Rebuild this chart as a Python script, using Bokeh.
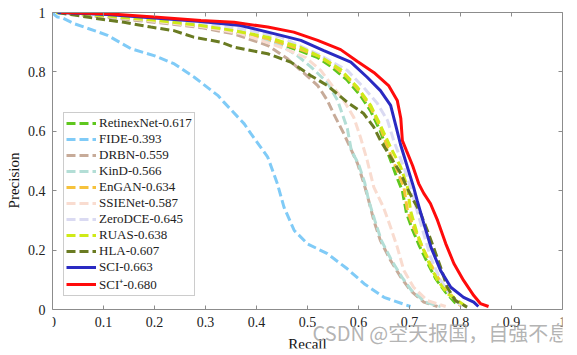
from bokeh.plotting import figure
from bokeh.models import Legend, LegendItem, LinearAxis, FixedTicker, Range1d, Label
from bokeh.embed import file_html
from bokeh.resources import INLINE

# ---------------- data ----------------
labels = ["RetinexNet-0.617", "FIDE-0.393", "DRBN-0.559", "KinD-0.566", "EnGAN-0.634",
          "SSIENet-0.587", "ZeroDCE-0.645", "RUAS-0.638", "HLA-0.607", "SCI-0.663", "SCI\u207a-0.680"]

r_retinex = [0.007, 0.108, 0.206, 0.291, 0.356, 0.422, 0.487, 0.520, 0.546, 0.578, 0.604, 0.624, 0.643, 0.657, 0.673, 0.686, 0.694, 0.706, 0.720, 0.738, 0.752, 0.770, 0.795]
p_retinex = [1.000, 0.987, 0.970, 0.953, 0.934, 0.909, 0.870, 0.848, 0.818, 0.772, 0.720, 0.668, 0.600, 0.530, 0.455, 0.400, 0.325, 0.268, 0.212, 0.148, 0.102, 0.060, 0.012]

r_fide = [0.000, 0.004, 0.009, 0.017, 0.043, 0.082, 0.108, 0.154, 0.199, 0.239, 0.278, 0.324, 0.335, 0.376, 0.389, 0.422, 0.441, 0.454, 0.474, 0.500, 0.539, 0.578, 0.611, 0.650, 0.702]
p_fide = [1.000, 0.992, 0.985, 0.984, 0.962, 0.939, 0.923, 0.878, 0.855, 0.827, 0.782, 0.721, 0.700, 0.625, 0.592, 0.513, 0.423, 0.344, 0.266, 0.221, 0.188, 0.137, 0.087, 0.041, 0.010]

r_drbn = [0.007, 0.108, 0.206, 0.291, 0.356, 0.422, 0.461, 0.487, 0.520, 0.539, 0.551, 0.571, 0.598, 0.610, 0.620, 0.630, 0.643, 0.663, 0.683, 0.702, 0.728, 0.755]
p_drbn = [1.000, 0.983, 0.966, 0.949, 0.928, 0.889, 0.844, 0.805, 0.754, 0.704, 0.660, 0.593, 0.492, 0.428, 0.367, 0.300, 0.232, 0.165, 0.109, 0.064, 0.025, 0.010]

r_kind = [0.007, 0.108, 0.206, 0.291, 0.369, 0.448, 0.480, 0.506, 0.539, 0.559, 0.578, 0.586, 0.600, 0.612, 0.620, 0.632, 0.645, 0.665, 0.685, 0.704, 0.731, 0.761]
p_kind = [1.000, 0.987, 0.970, 0.955, 0.936, 0.889, 0.855, 0.818, 0.764, 0.704, 0.610, 0.535, 0.490, 0.428, 0.367, 0.300, 0.232, 0.165, 0.109, 0.064, 0.025, 0.010]

r_engan = [0.007, 0.108, 0.206, 0.291, 0.356, 0.422, 0.487, 0.520, 0.546, 0.578, 0.604, 0.624, 0.643, 0.657, 0.676, 0.689, 0.696, 0.708, 0.722, 0.741, 0.755, 0.774, 0.800]
p_engan = [1.000, 0.988, 0.971, 0.955, 0.936, 0.912, 0.875, 0.855, 0.827, 0.782, 0.731, 0.680, 0.614, 0.546, 0.468, 0.412, 0.333, 0.277, 0.222, 0.155, 0.109, 0.064, 0.013]

r_ssie = [0.007, 0.108, 0.206, 0.291, 0.369, 0.448, 0.497, 0.526, 0.551, 0.571, 0.591, 0.604, 0.617, 0.630, 0.649, 0.663, 0.676, 0.689, 0.708, 0.735, 0.771]
p_ssie = [1.000, 0.987, 0.970, 0.953, 0.929, 0.883, 0.848, 0.805, 0.748, 0.704, 0.646, 0.579, 0.502, 0.412, 0.344, 0.277, 0.210, 0.131, 0.075, 0.030, 0.010]

r_zero = [0.007, 0.108, 0.206, 0.291, 0.369, 0.448, 0.526, 0.578, 0.610, 0.637, 0.657, 0.669, 0.686, 0.698, 0.712, 0.726, 0.741, 0.761, 0.781, 0.804]
p_zero = [1.000, 0.990, 0.976, 0.963, 0.946, 0.917, 0.855, 0.805, 0.748, 0.694, 0.636, 0.569, 0.492, 0.434, 0.350, 0.266, 0.178, 0.098, 0.044, 0.010]

r_ruas = [0.007, 0.108, 0.206, 0.291, 0.356, 0.422, 0.487, 0.526, 0.565, 0.598, 0.624, 0.643, 0.663, 0.683, 0.696, 0.702, 0.715, 0.728, 0.742, 0.755, 0.774, 0.813]
p_ruas = [1.000, 0.988, 0.973, 0.956, 0.939, 0.917, 0.882, 0.850, 0.808, 0.748, 0.687, 0.620, 0.546, 0.479, 0.412, 0.333, 0.256, 0.199, 0.142, 0.098, 0.054, 0.008]

r_hla = [0.010, 0.036, 0.089, 0.140, 0.193, 0.238, 0.277, 0.330, 0.356, 0.422, 0.467, 0.506, 0.539, 0.578, 0.610, 0.630, 0.643, 0.663, 0.683, 0.696, 0.708, 0.722, 0.735, 0.747, 0.761, 0.774, 0.790, 0.813]
p_hla = [1.000, 0.993, 0.979, 0.967, 0.951, 0.939, 0.917, 0.900, 0.883, 0.861, 0.833, 0.788, 0.754, 0.698, 0.660, 0.614, 0.569, 0.513, 0.458, 0.407, 0.367, 0.323, 0.266, 0.210, 0.142, 0.075, 0.030, 0.008]

r_sci = [0.010, 0.108, 0.206, 0.291, 0.369, 0.448, 0.487, 0.532, 0.585, 0.617, 0.643, 0.663, 0.673, 0.683, 0.696, 0.708, 0.715, 0.728, 0.742, 0.761, 0.781, 0.806, 0.826, 0.835]
p_sci = [1.000, 0.993, 0.981, 0.970, 0.956, 0.923, 0.906, 0.872, 0.833, 0.782, 0.737, 0.687, 0.620, 0.552, 0.479, 0.412, 0.367, 0.290, 0.210, 0.131, 0.075, 0.041, 0.025, 0.010]

r_scip = [0.017, 0.108, 0.206, 0.291, 0.356, 0.422, 0.473, 0.520, 0.565, 0.598, 0.630, 0.659, 0.676, 0.683, 0.686, 0.694, 0.706, 0.718, 0.728, 0.741, 0.755, 0.771, 0.787, 0.806, 0.826, 0.839, 0.855]
p_scip = [1.000, 0.996, 0.984, 0.973, 0.967, 0.951, 0.934, 0.906, 0.875, 0.835, 0.798, 0.754, 0.704, 0.643, 0.569, 0.535, 0.485, 0.424, 0.391, 0.357, 0.300, 0.222, 0.155, 0.098, 0.047, 0.020, 0.010]

x_ticks = [0, 0.1, 0.2, 0.3, 0.4, 0.5, 0.6, 0.7, 0.8, 0.9, 1]
x_tick_labels = ["0", "0.1", "0.2", "0.3", "0.4", "0.5", "0.6", "0.7", "0.8", "0.9", "1"]
y_ticks = [0, 0.2, 0.4, 0.6, 0.8, 1]
y_tick_labels = ["0", "0.2", "0.4", "0.6", "0.8", "1"]

series = [
    (r_retinex, p_retinex, "#5FC71E", "dashed"),
    (r_fide, p_fide, "#80CBF7", "dashed"),
    (r_drbn, p_drbn, "#C7AB99", "dashed"),
    (r_kind, p_kind, "#B3DED6", "dashed"),
    (r_engan, p_engan, "#F6C23C", "dashed"),
    (r_ssie, p_ssie, "#F9DCD0", "dashed"),
    (r_zero, p_zero, "#DADAF2", "dashed"),
    (r_ruas, p_ruas, "#CFEA17", "dashed"),
    (r_hla, p_hla, "#6A7B22", "dashed"),
    (r_sci, p_sci, "#2A2AC2", "solid"),
    (r_scip, p_scip, "#FF0B0B", "solid"),
]

FONT = "Liberation Serif, serif"
GRAY = "#8c8c8c"

# The frame reaches down to the bottom of the canvas so that the caption area below
# the x axis (where the reference's watermark sits) is drawable; the x axis itself is
# pinned at y = 0 and the side axes are bounded to [0, 1].
p = figure(width=570, height=350, x_range=Range1d(0, 1), y_range=Range1d(-0.1313, 1),
           output_backend="svg", toolbar_location=None,
           min_border_left=52, min_border_right=8, min_border_top=12, min_border_bottom=2)
p.xgrid.visible = False
p.ygrid.visible = False
p.outline_line_color = None

for ax, ticks, labs in ((p.xaxis[0], x_ticks, x_tick_labels), (p.yaxis[0], y_ticks, y_tick_labels)):
    ax.ticker = FixedTicker(ticks=ticks)
    ax.major_label_overrides = {t: l for t, l in zip(ticks, labs)}
    ax.major_label_text_font = FONT
    ax.major_label_text_font_size = "14px"
    ax.major_label_text_color = "#222222"
    ax.axis_label_text_font = FONT
    ax.axis_label_text_font_size = "15px"
    ax.axis_label_text_font_style = "normal"
    ax.axis_label_text_color = "#111111"
    ax.axis_line_color = GRAY
    ax.major_tick_line_color = GRAY
    ax.major_tick_in = 4
    ax.major_tick_out = 0
    ax.minor_tick_line_color = None

p.xaxis[0].fixed_location = 0
p.xaxis[0].major_label_standoff = 7
p.yaxis[0].bounds = (0, 1)
p.yaxis[0].axis_label = "Precision"
p.yaxis[0].major_label_standoff = 7
p.yaxis[0].axis_label_standoff = 3

top_axis = LinearAxis(ticker=FixedTicker(ticks=x_ticks), major_label_text_font_size="0px",
                      major_label_standoff=0, axis_line_color=GRAY, major_tick_line_color=GRAY,
                      major_tick_in=4, major_tick_out=0, minor_tick_line_color=None)
p.add_layout(top_axis, "above")
right_axis = LinearAxis(ticker=FixedTicker(ticks=y_ticks), bounds=(0, 1), major_label_text_font_size="0px",
                        major_label_standoff=0, axis_line_color=GRAY, major_tick_line_color=GRAY,
                        major_tick_in=4, major_tick_out=0, minor_tick_line_color=None)
p.add_layout(right_axis, "right")

items = []
for (rx, py, col, dash), lab in zip(series, labels):
    if dash == "dashed":
        rend = p.line(rx, py, line_color=col, line_width=3, line_dash="9 4")
    else:
        rend = p.line(rx, py, line_color=col, line_width=3)
    items.append(LegendItem(label=lab, renderers=[rend]))

legend = Legend(items=items, location=(11, 52))
legend.border_line_color = "#999999"
legend.border_line_width = 1
legend.background_fill_alpha = 1
legend.label_text_font = FONT
legend.label_text_font_size = "13px"
legend.label_text_color = "#222222"
legend.glyph_width = 30
legend.glyph_height = 14
legend.label_height = 14
legend.spacing = 0
legend.padding = 2
legend.margin = 0
legend.label_standoff = 3
p.add_layout(legend)

# x-axis title, drawn under the pinned axis
xlab = Label(x=255, y=5, x_units="screen", y_units="screen", text="Recall",
             text_font=FONT, text_font_size="15px", text_color="#111111",
             text_align="center", text_baseline="middle")
p.add_layout(xlab)

wm = Label(x=260, y=2, x_units="screen", y_units="screen",
           text="CSDN @空天报国，自强不息", text_font="Noto Sans CJK SC",
           text_font_size="20px", text_color="#a0a0a0", text_alpha=0.8,
           text_baseline="bottom")
p.add_layout(wm)

open("out.html", "w").write(file_html(p, INLINE))
